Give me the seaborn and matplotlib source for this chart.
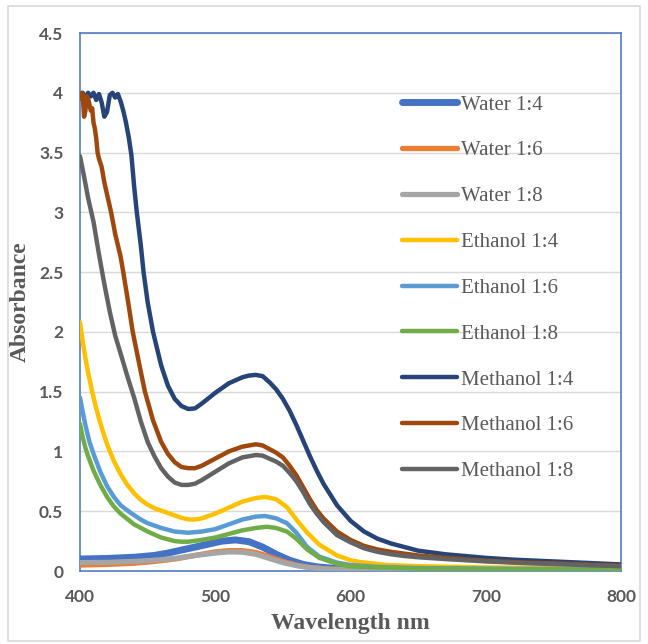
import numpy as np
import pandas as pd
import matplotlib
matplotlib.use("Agg")
import matplotlib.pyplot as plt
import seaborn as sns
from matplotlib.patches import Rectangle

# ---------------- data ----------------
series_names = ["Water 1:4", "Water 1:6", "Water 1:8",
                "Ethanol 1:4", "Ethanol 1:6", "Ethanol 1:8",
                "Methanol 1:4", "Methanol 1:6", "Methanol 1:8"]

water14_x = [400, 420, 440, 455, 465, 475, 485, 495, 505, 515, 525, 535, 545, 555, 565, 575, 590, 620, 700, 800]
water14_y = [0.10, 0.105, 0.115, 0.13, 0.15, 0.175, 0.20, 0.225, 0.25, 0.26, 0.245, 0.20, 0.14, 0.09, 0.055, 0.035, 0.02, 0.015, 0.01, 0.008]

water16_x = [400, 420, 440, 455, 470, 485, 500, 510, 520, 530, 540, 550, 560, 570, 585, 620, 700, 800]
water16_y = [0.05, 0.055, 0.065, 0.08, 0.10, 0.13, 0.16, 0.17, 0.17, 0.155, 0.12, 0.08, 0.05, 0.03, 0.015, 0.01, 0.005, 0.0]

water18_x = [400, 420, 440, 455, 470, 485, 500, 510, 520, 530, 540, 550, 560, 570, 585, 620, 700, 800]
water18_y = [0.07, 0.072, 0.08, 0.09, 0.105, 0.13, 0.15, 0.16, 0.158, 0.14, 0.105, 0.07, 0.045, 0.028, 0.015, 0.008, 0.004, 0.0]

eth14_x = [400, 402, 404, 406, 409, 412, 416, 420, 425, 430, 435, 440, 445, 450, 455, 460, 465, 470, 475, 480, 485, 490, 500, 510, 520, 530, 537, 545, 553, 560, 568, 577, 590, 600, 607, 627, 650, 700, 750, 800]
eth14_y = [2.08, 1.92, 1.78, 1.66, 1.50, 1.36, 1.20, 1.06, 0.92, 0.81, 0.72, 0.65, 0.595, 0.555, 0.525, 0.505, 0.485, 0.465, 0.445, 0.432, 0.43, 0.44, 0.48, 0.53, 0.58, 0.61, 0.62, 0.60, 0.535, 0.43, 0.32, 0.22, 0.13, 0.09, 0.075, 0.05, 0.04, 0.03, 0.025, 0.02]

eth16_x = [400, 402, 404, 407, 410, 415, 420, 425, 430, 437, 445, 450, 460, 470, 480, 490, 500, 510, 520, 530, 537, 545, 553, 560, 568, 577, 590, 600, 620, 650, 700, 800]
eth16_y = [1.45, 1.33, 1.22, 1.08, 0.98, 0.83, 0.71, 0.62, 0.55, 0.49, 0.43, 0.40, 0.36, 0.33, 0.32, 0.33, 0.35, 0.39, 0.43, 0.455, 0.46, 0.44, 0.40, 0.32, 0.20, 0.12, 0.07, 0.05, 0.035, 0.025, 0.02, 0.015]

eth18_x = [400, 402, 404, 406, 410, 415, 420, 425, 430, 440, 450, 460, 470, 475, 480, 490, 500, 510, 520, 530, 538, 545, 553, 560, 568, 577, 590, 600, 620, 650, 700, 800]
eth18_y = [1.23, 1.12, 1.03, 0.96, 0.84, 0.72, 0.62, 0.54, 0.48, 0.39, 0.33, 0.28, 0.25, 0.245, 0.245, 0.26, 0.28, 0.31, 0.34, 0.36, 0.37, 0.36, 0.33, 0.27, 0.18, 0.11, 0.06, 0.04, 0.03, 0.02, 0.015, 0.01]

meth14_x = [400, 402, 404, 406, 408, 410, 412, 414, 416, 418, 420, 422, 424, 426, 428, 430, 432, 434, 436, 438, 440, 442, 445, 447, 450, 454, 460, 465, 470, 475, 480, 485, 490, 500, 510, 520, 525, 530, 535, 540, 545, 550, 555, 560, 565, 570, 575, 580, 590, 600, 610, 620, 630, 640, 650, 660, 670, 680, 700, 720, 740, 760, 780, 800]
meth14_y = [3.98, 4.00, 3.95, 4.00, 3.97, 4.00, 3.94, 3.99, 3.92, 3.80, 3.84, 3.98, 4.00, 3.96, 3.99, 3.93, 3.85, 3.75, 3.63, 3.48, 3.22, 3.00, 2.72, 2.50, 2.25, 2.00, 1.72, 1.55, 1.44, 1.38, 1.355, 1.36, 1.40, 1.49, 1.57, 1.62, 1.635, 1.64, 1.63, 1.58, 1.52, 1.44, 1.34, 1.22, 1.09, 0.96, 0.84, 0.73, 0.55, 0.42, 0.33, 0.27, 0.23, 0.20, 0.17, 0.155, 0.14, 0.13, 0.11, 0.095, 0.085, 0.075, 0.065, 0.055]

meth16_x = [400, 401, 402, 403, 404, 405, 406, 407, 408, 409, 410, 411, 412, 413, 414, 416, 418, 420, 423, 426, 430, 432, 436, 439, 444, 448, 454, 460, 465, 470, 475, 480, 485, 490, 500, 510, 520, 530, 535, 540, 545, 550, 555, 560, 565, 570, 575, 580, 590, 600, 610, 620, 630, 640, 650, 670, 700, 730, 760, 800]
meth16_y = [3.95, 4.00, 3.98, 3.80, 3.85, 3.97, 3.95, 3.90, 3.85, 3.87, 3.75, 3.70, 3.62, 3.50, 3.45, 3.38, 3.25, 3.15, 3.00, 2.82, 2.63, 2.50, 2.22, 2.00, 1.72, 1.50, 1.26, 1.08, 0.98, 0.91, 0.87, 0.86, 0.86, 0.88, 0.94, 1.00, 1.04, 1.06, 1.05, 1.02, 0.99, 0.95, 0.88, 0.80, 0.70, 0.60, 0.51, 0.44, 0.33, 0.26, 0.21, 0.18, 0.16, 0.145, 0.13, 0.11, 0.085, 0.07, 0.06, 0.045]

meth18_x = [400, 403, 406, 410, 414, 418, 422, 426, 430, 435, 440, 445, 450, 455, 460, 465, 470, 475, 480, 485, 490, 500, 510, 520, 530, 535, 540, 545, 550, 555, 560, 565, 570, 575, 580, 590, 600, 610, 620, 630, 640, 650, 670, 700, 730, 760, 800]
meth18_y = [3.47, 3.30, 3.12, 2.92, 2.65, 2.40, 2.17, 1.97, 1.82, 1.63, 1.45, 1.25, 1.08, 0.96, 0.86, 0.79, 0.74, 0.72, 0.72, 0.73, 0.76, 0.83, 0.90, 0.95, 0.97, 0.965, 0.94, 0.915, 0.88, 0.82, 0.75, 0.66, 0.56, 0.48, 0.41, 0.30, 0.24, 0.19, 0.16, 0.14, 0.125, 0.115, 0.10, 0.08, 0.065, 0.055, 0.04]

series_x = [water14_x, water16_x, water18_x, eth14_x, eth16_x, eth18_x, meth14_x, meth16_x, meth18_x]
series_y = [water14_y, water16_y, water18_y, eth14_y, eth16_y, eth18_y, meth14_y, meth16_y, meth18_y]

x_ticks = [400, 500, 600, 700, 800]
y_ticks = [0, 0.5, 1, 1.5, 2, 2.5, 3, 3.5, 4, 4.5]
y_tick_labels = ["0", "0.5", "1", "1.5", "2", "2.5", "3", "3.5", "4", "4.5"]

# ---------------- style ----------------
colors = ["#4472C4", "#ED7D31", "#A5A5A5", "#FFC000", "#5B9BD5",
          "#70AD47", "#264478", "#9E480E", "#636363"]
widths = [5.0, 3.8, 3.8, 3.2, 3.2, 3.2, 3.2, 3.2, 3.2]

frames = []
for name, xs, ys in zip(series_names, series_x, series_y):
    frames.append(pd.DataFrame({"Wavelength": xs, "Absorbance": ys, "series": name}))
df = pd.concat(frames, ignore_index=True)

sns.set_theme(style="white")
plt.rcParams["font.family"] = ["Liberation Serif", "DejaVu Sans"]

fig = plt.figure(figsize=(6.48, 6.44), dpi=100)
ax = fig.add_axes([80 / 648, 1 - 571 / 644, (621 - 80) / 648, (571 - 33) / 644])

for name, c, w in zip(series_names, colors, widths):
    sub = df[df["series"] == name]
    sns.lineplot(data=sub, x="Wavelength", y="Absorbance", ax=ax, color=c,
                 linewidth=w, label=name, solid_capstyle="round",
                 solid_joinstyle="round", zorder=3)

ax.set_xlim(400, 800)
ax.set_ylim(0, 4.5)
ax.set_xticks(x_ticks)
ax.set_yticks(y_ticks)
ax.set_yticklabels(y_tick_labels)
ax.yaxis.grid(True, color="#D9D9D9", linewidth=1.0, zorder=0)
ax.xaxis.grid(False)
ax.set_axisbelow(True)
for s in ax.spines.values():
    s.set_visible(True)
    s.set_color("#4472C4")
    s.set_linewidth(1.1)

for lab in ax.get_xticklabels() + ax.get_yticklabels():
    lab.set_fontfamily(["Lato", "DejaVu Sans"])
    lab.set_fontweight("bold")
    lab.set_fontsize(12.5)
    lab.set_color("#595959")
ax.tick_params(axis="both", length=0)
ax.tick_params(axis="y", pad=12)
ax.tick_params(axis="x", pad=13)

ax.set_xlabel("Wavelength nm", fontsize=17, fontweight="bold", color="#595959",
              family=["Liberation Serif", "DejaVu Sans"], labelpad=6)
ax.set_ylabel("Absorbance", fontsize=17, fontweight="bold", color="#595959",
              family=["Liberation Serif", "DejaVu Sans"], labelpad=6)

leg = ax.legend(loc="upper left", bbox_to_anchor=(402 / 648, 1 - 95 / 644),
                bbox_transform=fig.transFigure, frameon=False, fontsize=15,
                handlelength=2.65, handletextpad=0.2, labelspacing=1.26,
                borderpad=0, borderaxespad=0)
for t in leg.get_texts():
    t.set_color("#595959")

# outer chart border
fig.patches.append(Rectangle((8 / 648, 1 - 641 / 644), (640 - 8) / 648, (641 - 6) / 644,
                             transform=fig.transFigure, fill=False,
                             edgecolor="#D9D9D9", linewidth=1.2, zorder=0))

fig.savefig("out.png", dpi=100)
